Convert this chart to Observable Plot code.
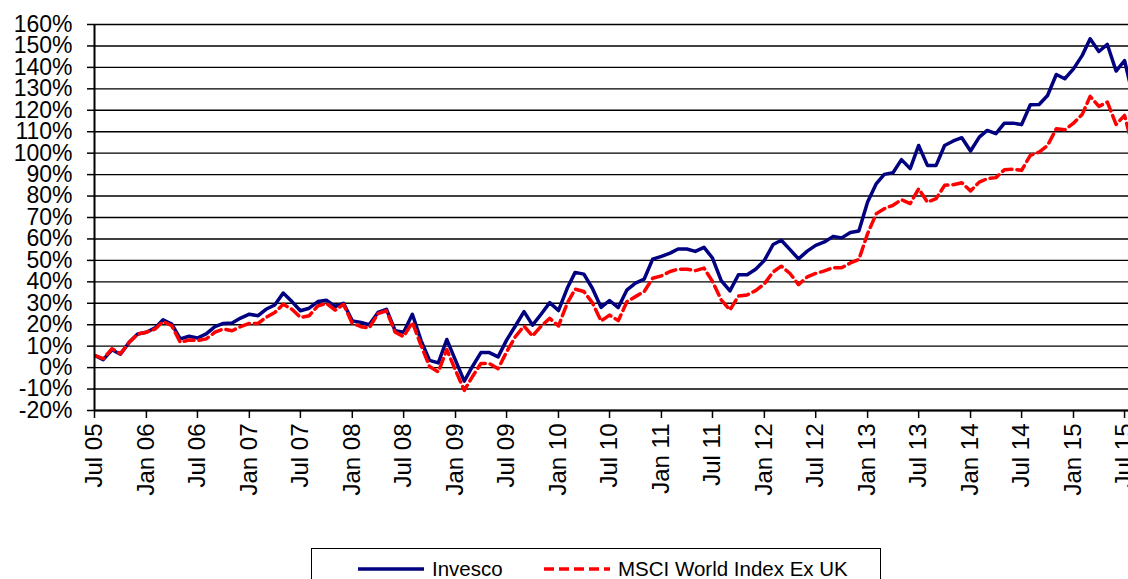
<!DOCTYPE html>
<html>
<head>
<meta charset="utf-8">
<script src="https://cdn.jsdelivr.net/npm/d3@7"></script>
<script src="https://cdn.jsdelivr.net/npm/@observablehq/plot@0.6"></script>
<style>
  html, body { margin: 0; padding: 0; background: #fff; }
  #wrap { position: relative; width: 1128px; height: 579px; overflow: hidden; font-family: "Liberation Sans", Arial, sans-serif; }
  #legend { position: absolute; left: 311px; top: 548px; width: 570px; height: 44px; box-sizing: border-box; border: 1.5px solid #000; background: #fff; }
  #legend .item { position: absolute; top: 7px; height: 26px; display: flex; align-items: center; font-size: 20.5px; color: #000; white-space: nowrap; }
  #legend svg { display: block; margin-right: 7px; }
</style>
</head>
<body>
<div id="wrap">
  <div id="chart"></div>
  <div id="legend">
    <div class="item" style="left:45px">
      <svg width="68" height="6"><line x1="1" y1="3" x2="67" y2="3" stroke="#000080" stroke-width="3.5"/></svg>
      <span>Invesco</span>
    </div>
    <div class="item" style="left:231px">
      <svg width="68" height="6"><line x1="1" y1="3" x2="67" y2="3" stroke="#ff0000" stroke-width="3.5" stroke-dasharray="10,5"/></svg>
      <span>MSCI World Index Ex UK</span>
    </div>
  </div>
</div>
<script>
// Cumulative performance, monthly, starting July 2005 (percent)
const firstMonth = "2005-07-01";

const invesco = [
  5.7, 3.7, 8.3, 6.2, 11.8, 15.7, 16.5, 18.5, 22.3, 20.3, 13.4, 14.6,
  13.8, 15.7, 19.1, 20.6, 20.8, 23.1, 24.9, 24.2, 27.2, 29.2, 34.8, 30.8,
  26.5, 27.7, 30.8, 31.4, 28.5, 30.0, 21.8, 21.1, 20.0, 25.7, 27.2, 17.2,
  16.5, 24.9, 12.6, 3.4, 2.2, 13.1, 3.4, -6.3, 0.3, 7.0, 7.0, 5.0,
  12.8, 19.4, 26.1, 19.8, 25.0, 30.3, 26.6, 37.0, 44.4, 43.6, 37.0, 28.1,
  31.3, 28.0, 36.3, 39.4, 41.3, 50.6, 51.9, 53.4, 55.3, 55.3, 54.2, 56.1,
  51.1, 40.6, 35.8, 43.3, 43.3, 45.9, 50.0, 57.4, 59.4, 55.0, 50.7, 54.3,
  57.0, 58.6, 61.2, 60.5, 63.0, 63.7, 77.2, 85.8, 90.1, 90.9, 97.0, 92.8,
  103.6, 94.3, 94.3, 103.6, 105.7, 107.2, 101.0, 107.5, 110.6, 109.1, 114.0, 114.0,
  113.3, 122.6, 122.7, 126.9, 136.7, 134.7, 139.3, 145.6, 153.3, 147.4, 150.7, 138.3,
  143.2, 126.0
];

const msciWorldExUK = [
  5.7, 4.2, 8.8, 6.5, 11.8, 15.7, 16.5, 18.0, 21.5, 19.5, 11.8, 12.9,
  12.6, 13.4, 16.5, 18.0, 17.2, 19.1, 20.6, 20.6, 23.4, 25.7, 29.5, 27.2,
  23.4, 24.2, 28.8, 30.0, 26.8, 29.5, 20.6, 19.1, 18.5, 25.2, 26.5, 16.5,
  14.5, 21.1, 10.3, 0.5, -2.0, 8.4, -1.3, -10.6, -4.4, 1.9, 1.9, -0.5,
  7.3, 14.4, 19.4, 14.7, 19.4, 23.0, 19.4, 30.0, 36.6, 35.5, 30.3, 21.7,
  24.5, 21.9, 30.8, 33.1, 35.5, 41.7, 42.8, 44.8, 45.9, 45.9, 45.2, 46.4,
  40.2, 31.6, 26.9, 33.4, 33.9, 35.9, 39.1, 44.6, 47.3, 43.9, 38.7, 42.3,
  43.9, 45.1, 46.6, 46.6, 48.8, 50.4, 62.5, 71.8, 74.1, 75.7, 78.3, 76.5,
  83.4, 77.2, 78.8, 85.0, 85.3, 86.2, 82.4, 86.5, 88.1, 88.6, 92.3, 92.5,
  92.0, 99.0, 100.5, 103.6, 111.4, 110.9, 114.0, 118.1, 126.5, 121.8, 123.8, 113.4,
  117.6, 102.0
];

const yTicks = [-20, -10, 0, 10, 20, 30, 40, 50, 60, 70, 80, 90, 100, 110, 120, 130, 140, 150, 160];

const start = new Date(firstMonth + "T00:00:00Z");
const end = new Date("2015-07-15T00:00:00Z");
const xTicks = d3.utcMonth.every(6).range(start, end);

const rows = invesco.map((v, i) => ({
  date: d3.utcMonth.offset(start, i),
  invesco: v,
  msci: msciWorldExUK[i]
}));

const chart = Plot.plot({
  width: 1128,
  height: 540,
  marginLeft: 94,
  marginRight: 0,
  marginTop: 24,
  marginBottom: 130,
  style: { fontFamily: "'Liberation Sans', Arial, sans-serif", color: "#000", background: "transparent" },
  x: { type: "utc", domain: [start, end] },
  y: { domain: [-20, 160] },
  marks: [
    Plot.gridY(yTicks, { stroke: "#000", strokeOpacity: 1, strokeWidth: 1.4 }),
    Plot.axisY(yTicks, { tickSize: 7, tickPadding: 15, fontSize: 23, tickFormat: d => d + "%", strokeWidth: 1.5 }),
    Plot.axisX(xTicks, { tickSize: 8, tickPadding: 5, tickRotate: -90, fontSize: 24, tickFormat: d3.utcFormat("%b %y"), strokeWidth: 1.5 }),
    Plot.line(rows, { x: "date", y: "invesco", stroke: "#000080", strokeWidth: 3.5, clip: true }),
    Plot.line(rows, { x: "date", y: "msci", stroke: "#ff0000", strokeWidth: 3.5, strokeDasharray: "10,5", clip: true }),
    Plot.ruleX([start], { stroke: "#000", strokeWidth: 2 }),
    Plot.ruleY([-20], { stroke: "#000", strokeWidth: 2 })
  ]
});

document.getElementById("chart").appendChild(chart);
</script>
</body>
</html>
